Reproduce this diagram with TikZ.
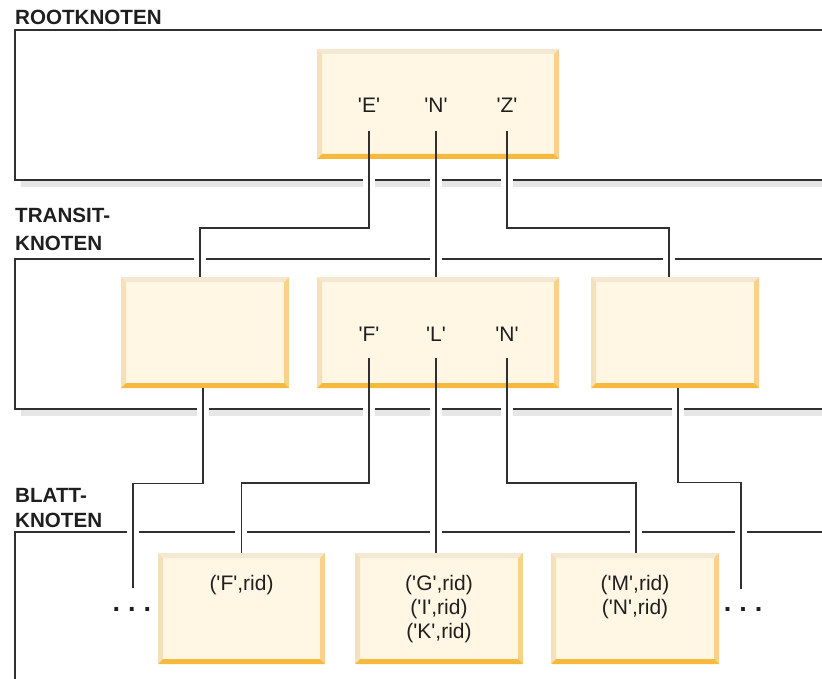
\documentclass[tikz,border=0pt]{standalone}
\usepackage{fontspec}
\setmainfont{Liberation Sans}
\newfontfamily\knotenfont{Liberation Sans}
\usepackage{tikz}
\usepackage{xcolor}

\definecolor{knotenInnen}{HTML}{FFF7E4}
\definecolor{kanteOben}{HTML}{F5E8D2}
\definecolor{kanteLinks}{HTML}{F5E0BC}
\definecolor{kanteRechts}{HTML}{F8D18A}
\definecolor{kanteUnten}{HTML}{F6B93B}
\definecolor{linie}{HTML}{303030}
\definecolor{schattenGrau}{HTML}{E6E6E6}

\begin{document}
\begin{tikzpicture}[x=1pt, y=-1pt,
		every node/.style={font=\knotenfont\fontsize{21}{24}\selectfont, text=black!88},
		ebene/.style={draw=linie, line width=1.4pt},
		schatten/.style={fill=schattenGrau},
		verbindung/.style={draw=linie, line width=1.4pt},
		titel/.style={anchor=base west, inner sep=0pt, font=\knotenfont\bfseries\fontsize{20.6}{24}\selectfont},
		schluessel/.style={anchor=base, inner sep=0pt},
		blatttext/.style={anchor=north, inner sep=0pt, align=center},
		punkte/.style={anchor=base, inner sep=0pt, font=\knotenfont\bfseries\fontsize{27}{24}\selectfont},
		knoten/.style={fill=knotenInnen, inner sep=0pt, minimum width=#1, minimum height=111pt,
			path picture={
				\path (path picture bounding box.north west) coordinate (nw)
				      (path picture bounding box.north east) coordinate (ne)
				      (path picture bounding box.south west) coordinate (sw)
				      (path picture bounding box.south east) coordinate (se);
				\fill[kanteOben] (nw) -- (ne) -- ([shift={(-5pt,-5pt)}]ne) -- ([shift={(5pt,-5pt)}]nw) -- cycle;
				\fill[kanteLinks] (nw) -- ([shift={(5pt,-5pt)}]nw) -- ([shift={(5pt,5pt)}]sw) -- (sw) -- cycle;
				\fill[kanteRechts] (ne) -- (se) -- ([shift={(-5pt,5pt)}]se) -- ([shift={(-5pt,-5pt)}]ne) -- cycle;
				\fill[kanteUnten] (sw) -- (se) -- ([shift={(-5pt,5pt)}]se) -- ([shift={(5pt,5pt)}]sw) -- cycle;
			}},
	]
	\useasboundingbox (0,0) rectangle (822,679);

	% Ebenen
	\draw[ebene] (822,30) -- (15,30) -- (15,180) -- (822,180);
	\fill[schatten] (21,181) rectangle (822,187);
	\draw[ebene] (822,259) -- (15,259) -- (15,409) -- (822,409);
	\fill[schatten] (21,410) rectangle (822,416);
	\draw[ebene] (822,532) -- (15,532) -- (15,679);

	% Luecken fuer die Verbindungen
	\foreach \x in {369,436,507} \fill[white] (\x-6,176) rectangle (\x+6,189);
	\foreach \x in {200,436,669} \fill[white] (\x-6,255) rectangle (\x+6,263);
	\foreach \x in {203,369,436,507,678} \fill[white] (\x-6,405) rectangle (\x+6,418);
	\foreach \x in {133,241,436,636,741} \fill[white] (\x-6,528) rectangle (\x+6,536);

	% Beschriftungen
	\node[titel] (lblRoot) at (15,25) {ROOTKNOTEN};
	\node[titel] (lblTransitA) at (15,223) {TRANSIT-};
	\node[titel] (lblTransitB) at (15,251) {KNOTEN};
	\node[titel] (lblBlattA) at (15,502) {BLATT-};
	\node[titel] (lblBlattB) at (15,527) {KNOTEN};

	% Rootknoten
	\node[knoten=242pt, minimum height=110pt] (root) at (438,104) {};
	\node[schluessel] (rE) at (369,113) {'E'};
	\node[schluessel] (rN) at (436,113) {'N'};
	\node[schluessel] (rZ) at (507,113) {'Z'};

	% Transitknoten
	\node[knoten=168pt] (t1) at (205,332.5) {};
	\node[knoten=242pt] (t2) at (438,332.5) {};
	\node[knoten=168pt] (t3) at (675,332.5) {};
	\node[schluessel] (tF) at (369,341) {'F'};
	\node[schluessel] (tL) at (436,341) {'L'};
	\node[schluessel] (tN) at (507,341) {'N'};

	% Blattknoten
	\node[knoten=167pt] (l1) at (241.5,608.5) {};
	\node[knoten=168pt] (l2) at (439,608.5) {};
	\node[knoten=168pt] (l3) at (635,608.5) {};
	\node[blatttext] (txF) at ([yshift=-22pt]l1.north) {('F',rid)};
	\node[blatttext] (txG) at ([yshift=-22pt]l2.north) {('G',rid)\\('I',rid)\\('K',rid)};
	\node[blatttext] (txM) at ([yshift=-22pt]l3.north) {('M',rid)\\('N',rid)};

	\node[punkte] (dotsL) at (132,611) {.\hspace{8pt}.\hspace{8pt}.};
	\node[punkte] (dotsR) at (743,611) {.\hspace{8pt}.\hspace{8pt}.};
	\coordinate (endL) at (133,588);
	\coordinate (endR) at (741,589);

	% Verbindungen
	\draw[verbindung] ([yshift=-18pt]rE.base) -- ++(0,97) -| ([xshift=-5pt]t1.north);
	\draw[verbindung] ([yshift=-18pt]rN.base) -- (rN.base |- t2.north);
	\draw[verbindung] ([yshift=-18pt]rZ.base) -- ++(0,97) -| ([xshift=-6pt]t3.north);

	\draw[verbindung] ([xshift=-2pt]t1.south) -- ++(0,95) -| (endL);
	\draw[verbindung] ([yshift=-17pt]tF.base) -- ++(0,125) -| (l1.north);
	\draw[verbindung] ([yshift=-17pt]tL.base) -- (tL.base |- l2.north);
	\draw[verbindung] ([yshift=-17pt]tN.base) -- ++(0,125) -| ([xshift=1pt]l3.north);
	\draw[verbindung] ([xshift=3pt]t3.south) -- ++(0,94) -| (endR);
\end{tikzpicture}
\end{document}
